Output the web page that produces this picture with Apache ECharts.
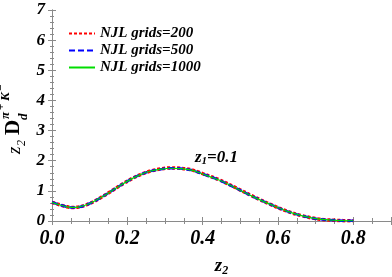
<!DOCTYPE html>
<html><head><meta charset="utf-8">
<script src="https://cdn.jsdelivr.net/npm/echarts@6/dist/echarts.min.js"></script>
<style>html,body{margin:0;padding:0;background:#fff}#c{width:392px;height:277px}</style>
</head><body><div id="c"></div>
<script>
var z2 = [0, 0.02, 0.04, 0.055, 0.07, 0.1, 0.13, 0.155, 0.18, 0.21, 0.235, 0.26, 0.29, 0.315, 0.34, 0.37, 0.40, 0.445, 0.49, 0.535, 0.58, 0.625, 0.665, 0.71, 0.755, 0.80];
var grid200 = [0.62, 0.54, 0.47, 0.45, 0.46, 0.58, 0.78, 0.97, 1.17, 1.39, 1.54, 1.65, 1.73, 1.76, 1.75, 1.70, 1.57, 1.36, 1.09, 0.81, 0.55, 0.32, 0.17, 0.06, 0.02, 0.005];
var grid500 = [0.62, 0.54, 0.47, 0.45, 0.46, 0.58, 0.78, 0.97, 1.17, 1.39, 1.54, 1.65, 1.72, 1.75, 1.74, 1.69, 1.56, 1.35, 1.08, 0.80, 0.55, 0.32, 0.17, 0.06, 0.02, 0.005];
var grid1000 = [0.62, 0.54, 0.47, 0.45, 0.46, 0.58, 0.78, 0.97, 1.17, 1.39, 1.54, 1.65, 1.72, 1.75, 1.74, 1.69, 1.56, 1.35, 1.08, 0.80, 0.55, 0.32, 0.17, 0.06, 0.02, 0.005];
var xTicks = ['0.0', '0.2', '0.4', '0.6', '0.8'];
var yTicks = ['0', '1', '2', '3', '4', '5', '6', '7'];
var names = ['NJL grids=200', 'NJL grids=500', 'NJL grids=1000'];

function pairs(ys){ return z2.map(function(x,i){return [x, ys[i]];}); }
var serif = '"Liberation Serif", "DejaVu Serif", serif';
var axisCol = '#8a8a8a';
var chart = echarts.init(document.getElementById('c'), null, {renderer:'canvas'});
var baseX = {
  type:'value', min:0, max:0.9, interval:0.2,
  axisLine:{lineStyle:{color:axisCol, width:1}},
  axisTick:{inside:true, length:4, lineStyle:{color:axisCol}},
  minorTick:{show:true, splitNumber:4, length:3, lineStyle:{color:axisCol}},
  splitLine:{show:false}
};
var baseY = {
  type:'value', min:0, max:7, interval:1,
  axisLine:{show:true, lineStyle:{color:axisCol, width:1}},
  axisTick:{show:true, inside:true, length:4, lineStyle:{color:axisCol}},
  minorTick:{show:true, splitNumber:5, length:2, lineStyle:{color:axisCol}},
  splitLine:{show:false}
};
chart.setOption({
  animation:false,
  grid:{left:52, right:1, top:10, bottom:56, containLabel:false, outerBoundsMode:'none'},
  xAxis:[
    Object.assign({}, baseX, {position:'bottom',
      axisLabel:{margin:8, color:'#000', fontFamily:serif, fontStyle:'italic', fontWeight:'bold', fontSize:20,
        formatter:function(v){ var s=v.toFixed(1); return xTicks.indexOf(s)>=0? s : ''; }},
      name:'z{s|2}', nameLocation:'middle', nameGap:34,
      nameTextStyle:{color:'#000', fontFamily:serif, fontStyle:'italic', fontWeight:'bold', fontSize:19,
        rich:{s:{fontFamily:serif, fontStyle:'italic', fontWeight:'bold', fontSize:12, padding:[10,0,0,0]}}}
    }),
    Object.assign({}, baseX, {position:'top', axisLabel:{show:false}})
  ],
  yAxis:[
    Object.assign({}, baseY, {position:'left',
      axisLabel:{margin:7, color:'#000', fontFamily:serif, fontStyle:'italic', fontWeight:'bold', fontSize:17,
        formatter:function(v){ return yTicks[Math.round(v)]; }}}),
    Object.assign({}, baseY, {position:'right', axisLabel:{show:false}})
  ],
  legend:{
    orient:'vertical', left:63, top:21, itemWidth:26, itemHeight:6, itemGap:2,
    data:names, itemStyle:{opacity:0},
    textStyle:{color:'#000', fontFamily:serif, fontStyle:'italic', fontWeight:'bold', fontSize:15}
  },
  graphic:[
    {type:'text', left:195, top:149,
      style:{text:'z{s|1}=0.1', fill:'#000', font:'italic bold 17px '+serif,
        rich:{s:{font:'italic bold 11px '+serif, padding:[8,0,0,0]}}}},
    {type:'group', x:24, y:154, rotation:Math.PI/2, children:[
      {type:'text', x:0, y:0, style:{text:'z', fill:'#000', font:'italic 19px '+serif, textVerticalAlign:'bottom'}},
      {type:'text', x:8, y:4, style:{text:'2', fill:'#000', font:'italic 12px '+serif, textVerticalAlign:'bottom'}},
      {type:'text', x:19, y:0, style:{text:'D', fill:'#000', font:'bold 21px '+serif, textVerticalAlign:'bottom'}},
      {type:'text', x:34, y:6, style:{text:'d', fill:'#000', font:'bold italic 13px '+serif, textVerticalAlign:'bottom'}},
      {type:'text', x:35, y:-12, style:{text:'\u03c0', fill:'#000', font:'bold italic 13px '+serif, textVerticalAlign:'bottom'}},
      {type:'text', x:44, y:-17, style:{text:'+', fill:'#000', font:'bold 11px '+serif, textVerticalAlign:'bottom'}},
      {type:'text', x:53, y:-12, style:{text:'K', fill:'#000', font:'bold italic 13px '+serif, textVerticalAlign:'bottom'}},
      {type:'text', x:63, y:-17, style:{text:'\u2212', fill:'#000', font:'bold 11px '+serif, textVerticalAlign:'bottom'}}
    ]}
  ],
  series:[
    {name:names[0], type:'line', data:pairs(grid200), symbol:'none', smooth:0.35, z:1,
      lineStyle:{color:'#ff0000', width:3.5, type:[3,2]}, itemStyle:{color:'#ff0000'}},
    {name:names[1], type:'line', data:pairs(grid500), symbol:'none', smooth:0.35, z:2,
      lineStyle:{color:'#0000ff', width:2.5, type:[6,3]}, itemStyle:{color:'#0000ff'}},
    {name:names[2], type:'line', data:pairs(grid1000), symbol:'none', smooth:0.35, z:3,
      lineStyle:{color:'#00dd00', width:1.2, type:'solid'}, itemStyle:{color:'#00dd00'}}
  ]
});
</script></body></html>
